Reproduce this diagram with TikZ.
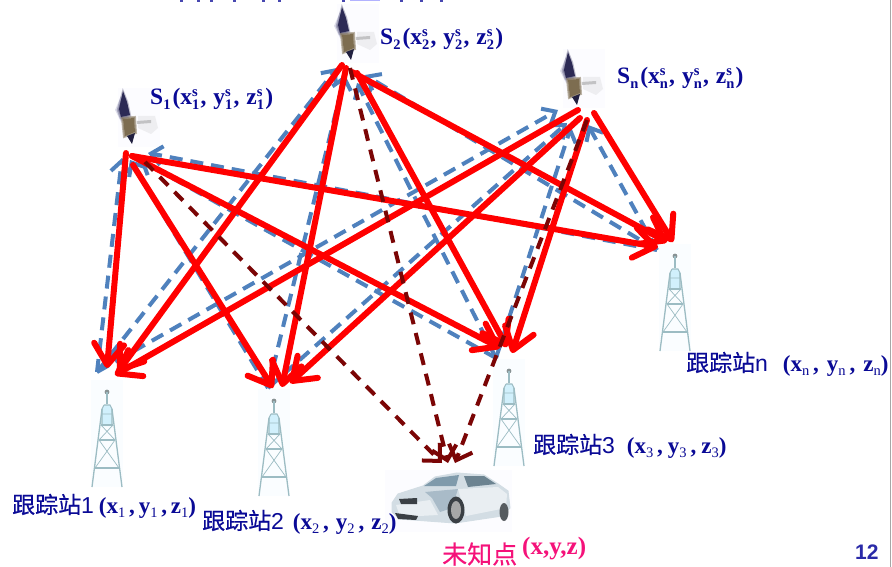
\documentclass[tikz,border=0pt]{standalone}
\usepackage{fontspec}
\setmainfont{Liberation Serif}
\setsansfont{Liberation Sans}
\newfontfamily\cjk[FakeBold=0.5]{Noto Sans CJK SC}
\usetikzlibrary{arrows.meta}
\definecolor{lblue}{HTML}{0A0A96}
\definecolor{lpink}{HTML}{F5127A}
\definecolor{pnum}{HTML}{2A2AA8}
\definecolor{rayred}{HTML}{FF0000}
\definecolor{rayblue}{HTML}{4F81BD}
\definecolor{raydark}{HTML}{7B0505}
\definecolor{twr}{HTML}{9CBCC3}
\definecolor{panel}{HTML}{2C2A55}
\definecolor{sbody}{HTML}{7D6D50}
\definecolor{carbody}{HTML}{D3DDE4}
\definecolor{carlight}{HTML}{E9EEF2}
\definecolor{carwin}{HTML}{7F9AAB}
\definecolor{carhood}{HTML}{A9BBC8}
\definecolor{cardark}{HTML}{3A3F44}
\newcommand{\subfs}{\fontsize{14.5}{15}\selectfont}
\newcommand{\ccs}[2]{\textbf{#1}\rlap{\raisebox{8.5pt}{\subfs\textbf{s}}}\raisebox{-4.5pt}{\subfs\textbf{#2}}\kern1.2pt}
\newcommand{\satlab}[1]{\textbf{S}\raisebox{-4.5pt}{\subfs\textbf{#1}}\kern2pt\textbf{(}\ccs{x}{#1}\textbf{,}\kern7pt\ccs{y}{#1}\textbf{,}\kern7pt\ccs{z}{#1}\textbf{)}}
\newcommand{\stnsub}[1]{\raisebox{-4.5pt}{\subfs #1}}
\newcommand{\stnlab}[2]{\textbf{(x}\stnsub{#2}\textbf{\,,}\kern#1\textbf{y}\stnsub{#2}\textbf{\,,}\kern#1\textbf{z}\stnsub{#2}\textbf{)}}
\tikzset{
  rayr/.style={draw=rayred,line width=6pt,line cap=round,-{Straight Barb[length=21pt,width=30pt,round]}},
  rayb/.style={draw=rayblue,line width=4pt,dash pattern=on 13pt off 8pt,-{Straight Barb[length=11pt,width=19pt]}},
  rayd/.style={draw=raydark,line width=4pt,dash pattern=on 12pt off 9pt,-{Straight Barb[length=13pt,width=25pt]}},
  satlabel/.style={anchor=west,inner sep=0pt,text=lblue,font=\fontsize{23.5}{26}\selectfont},
  stnlabel/.style={anchor=west,inner sep=0pt,text=lblue,font=\fontsize{23}{26}\selectfont},
  sat/.pic={
    \fill[white!99!blue] (-5,-4) rectangle (37,55);
    \fill[blue!25!gray!70!white,opacity=.3] (-8,18) -- (-2,4) -- (6,26) -- (-2,30) -- cycle;
    \fill[black!30!white,opacity=.18] (15,24) -- (32,24) -- (35,36) -- (28,42) -- (15,36) -- cycle;
    \fill[black!35!white,opacity=.6] (14,29) -- (28,28) -- (28,31) -- (14,32) -- cycle;
    \path[fill=panel,draw=panel,line width=2.5pt,opacity=.3] (0,0) -- (4,10) -- (7,24) -- (-2,26) -- (-5,18) -- cycle;
    \fill[panel] (0,-1) -- (4,10) -- (7,23) -- (-2,25) -- (-4,17) -- cycle;
    \path[fill=sbody,draw=sbody,line width=2pt,opacity=.5] (-1,26) -- (12,25) -- (13,41) -- (1,45) -- cycle;
    \fill[sbody] (0,27) -- (11,26) -- (12,40) -- (2,44) -- cycle;
    \fill[panel!75!black] (4,44) -- (12,41) -- (9,52) -- cycle;
  },
  tower/.pic={
    \fill[white!98!cyan] (-16,-12) rectangle (16,95);
    \fill[cyan!18!white] (-5,16) -- (-3,13) -- (3,13) -- (5,16) -- (5,34) -- (-5,34) -- cycle;
    \fill[gray!70!twr] (0,0) circle (2.4);
    \draw[twr,line width=1.5pt] (0,0) -- (0,12);
    \draw[twr,line width=1.1pt] (-3,13) -- (3,13) -- (5,17) -- (5,33) (-3,13) -- (-5,17) -- (-5,33);
    \draw[twr,line width=1.3pt] (-5,17) -- (-15,95) (5,17) -- (15,95);
    \draw[twr,line width=1.2pt] (-6,33) -- (6,33) (-8,48) -- (8,48) (-12,76) -- (12,76);
    \draw[twr,line width=.7pt] (-6,33) -- (8,48) (6,33) -- (-8,48) (-8,48) -- (12,76) (8,48) -- (-12,76) (-5,22) -- (5,22);
  },
  clipped/.style={fill=lblue,opacity=.75}
}
\begin{document}
\begin{tikzpicture}[x=1pt,y=-1pt]
\useasboundingbox (0,0) rectangle (892,567);
\fill[white] (0,0) rectangle (892,567);
\draw[black!35,line width=.8pt] (890.5,0) -- (890.5,567);
% cut-off marks at the top edge
\foreach \tx in {180,197,210,233,262,278,342,400,420,440} {\fill[clipped] (\tx,0) rectangle ++(3,2.5);}
\fill[blue!30!white] (350,0) rectangle (380,1.5);
% satellites
\pic at (123,92) {sat};
\pic at (342,8) {sat};
\pic at (568,53) {sat};
% towers
\pic at (107,392) {tower};
\pic at (274,401) {tower};
\pic at (509,371) {tower};
\pic at (675,256) {tower};
% car
\fill[white!99!blue] (385,470) rectangle (512,532);
\path[fill=carbody,draw=carbody,line width=1pt] (392,503) -- (398,494) -- (423,486) -- (435,477) -- (457,473) -- (484,475) -- (498,484) -- (508,491) -- (510,508) -- (502,516) -- (455,523) -- (400,519) -- (392,512) -- cycle;
\fill[carlight] (458,489) -- (498,487) -- (507,494) -- (506,508) -- (466,516) -- cycle;
\fill[carlight] (396,505) -- (430,500) -- (438,515) -- (400,517) -- cycle;
\fill[carwin] (424,486) -- (436,478) -- (459,475) -- (456,486) -- cycle;
\fill[carwin!85!black] (464,476) -- (484,476) -- (496,484) -- (468,487) -- cycle;
\fill[carhood] (425,492) -- (458,489) -- (452,508) -- (440,512) -- (432,498) -- cycle;
\fill[cardark] (399,499) -- (417,498) -- (417,504) -- (401,504) -- cycle;
\fill[cardark] (395,513) -- (418,516) -- (416,520) -- (398,519) -- cycle;
\fill[cardark] (456,510) ellipse (8.5 and 13.5);
\fill[black!35] (456,510) ellipse (5 and 9);
\fill[cardark!85!white] (504,512) ellipse (4.5 and 9);
% endpoints
\coordinate (s1a) at (126,153); \coordinate (s1b) at (133,165); \coordinate (s1c) at (132,156);
\coordinate (s2a) at (342,65); \coordinate (s2b) at (346,68); \coordinate (s2c) at (357,73); \coordinate (s2d) at (352,72);
\coordinate (sna) at (578,110); \coordinate (snb) at (580,118); \coordinate (snc) at (587,120); \coordinate (snd) at (594,113);
\coordinate (t1a) at (107,368); \coordinate (t1b) at (118,372); \coordinate (t1c) at (115,375);
\coordinate (t2a) at (273,388); \coordinate (t2b) at (282,387); \coordinate (t2c) at (290,383);
\coordinate (t3a) at (500,348); \coordinate (t3b) at (507,347); \coordinate (t3c) at (512,353);
\coordinate (tna) at (658,247); \coordinate (tnb) at (667,242); \coordinate (tnc) at (673,242);
\coordinate (bt1) at (97,372); \coordinate (bt2) at (268,388); \coordinate (bt3) at (496,358); \coordinate (btn) at (657,250);
\coordinate (bs1a) at (122,158); \coordinate (bs1b) at (130,160); \coordinate (bs1c) at (140,160); \coordinate (bs1d) at (148,153);
\coordinate (bs2a) at (337,68); \coordinate (bs2b) at (345,75); \coordinate (bs2c) at (357,83); \coordinate (bs2d) at (365,75);
\coordinate (bsna) at (558,110); \coordinate (bsnb) at (567,123); \coordinate (bsnc) at (571,127); \coordinate (bsnd) at (588,125);
\coordinate (ds1) at (145,162); \coordinate (ds2) at (350,68); \coordinate (dsn) at (587,120);
\coordinate (cara) at (442,463); \coordinate (carb) at (448,463); \coordinate (carc) at (455,463);
% blue
\draw[rayb] (bt1) -- (bs1a); \draw[rayb] (bt2) -- (bs1b); \draw[rayb] (bt3) -- (bs1c); \draw[rayb] (btn) -- (bs1d);
\draw[rayb] (bt1) -- (bs2a); \draw[rayb] (bt2) -- (bs2b); \draw[rayb] (bt3) -- (bs2c); \draw[rayb] (btn) -- (bs2d);
\draw[rayb] (bt1) -- (bsna); \draw[rayb] (bt2) -- (bsnb); \draw[rayb] (bt3) -- (bsnc); \draw[rayb] (btn) -- (bsnd);
% red
\draw[rayr] (s1a) -- (t1a); \draw[rayr] (s1b) -- (t2a); \draw[rayr] (s1c) -- (t3a); \draw[rayr] (s1c) -- (tna);
\draw[rayr] (s2a) -- (t1b); \draw[rayr] (s2b) -- (t2b); \draw[rayr] (s2c) -- (t3b); \draw[rayr] (s2d) -- (tnb);
\draw[rayr] (sna) -- (t1c); \draw[rayr] (snb) -- (t2c); \draw[rayr] (snc) -- (t3c); \draw[rayr] (snd) -- (tnc);
% dark
\draw[rayd] (ds1) -- (cara); \draw[rayd] (ds2) -- (carb); \draw[rayd] (dsn) -- (carc);
% labels
\node[satlabel] (LS1) at (150,99) {\satlab{1}};
\node[satlabel] (LS2) at (380,39) {\satlab{2}};
\node[satlabel] (LSn) at (617,78) {\satlab{n}};
\node[stnlabel] (L1) at (12,506) {{\cjk 跟踪站}{\sffamily 1}\kern5pt\stnlab{3.8pt}{1}};
\node[stnlabel] (L2) at (202,522) {{\cjk 跟踪站}{\sffamily 2}\kern9pt\stnlab{7pt}{2}};
\node[stnlabel] (L3) at (533,446) {{\cjk 跟踪站}{\sffamily 3}\kern12pt\stnlab{5pt}{3}};
\node[stnlabel] (Ln) at (686,364) {{\cjk 跟踪站}{\sffamily n}\kern15pt\stnlab{8pt}{n}};
\node[stnlabel,text=lpink,font=\fontsize{25}{28}\selectfont] (LU) at (442,554) {{\cjk 未知点}};
\node[anchor=west,inner sep=0pt,text=lpink,font=\fontsize{25}{28}\selectfont\bfseries] (LX) at (522,549) {(x,y,z)};
\node[anchor=west,inner sep=0pt,text=pnum,font=\fontsize{21}{24}\selectfont\sffamily\bfseries] (PN) at (855,552) {12};
\end{tikzpicture}
\end{document}
